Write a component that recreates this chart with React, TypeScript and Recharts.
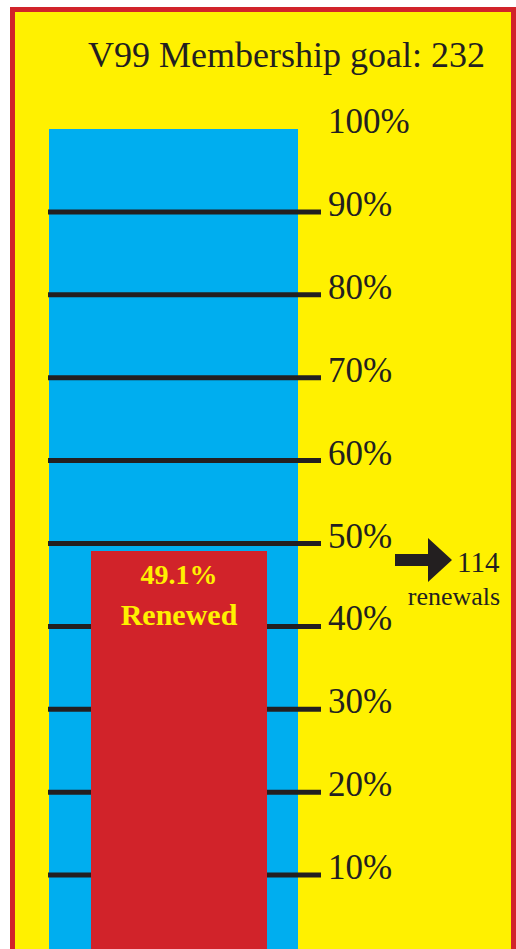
import React from 'react';
import { ComposedChart, Bar, XAxis, YAxis, LabelList } from 'recharts';

const categories = ['V99'];
const goalPct = [100];
const renewedPct = [49.1];
const goalCount = 232;
const renewalCount = 114;
const tickValues = [10, 20, 30, 40, 50, 60, 70, 80, 90, 100];
const lineValues = [10, 20, 30, 40, 50, 60, 70, 80, 90];

const data = categories.map((c, i) => ({ name: c, goal: goalPct[i], renewed: renewedPct[i] }));

const SERIF = '"Liberation Serif", "DejaVu Serif", serif';
const INK = '#231F20';
const YELLOW = '#FFF100';
const BLUE = '#00AEEF';
const RED = '#D1232A';

const Tick = (props: any) => {
  const { x, y, payload } = props;
  return (
    <text x={x + 7} y={y + 4} fill={INK} fontSize={35} fontFamily={SERIF} textAnchor="start">
      {`${payload.value}%`}
    </text>
  );
};

// Goal bar (100%) with the scale lines at each 10% drawn from the bar's own geometry
const GoalShape = (props: any) => {
  const { x, y, width, height, payload } = props;
  const top = payload.goal;
  const bottomY = y + height;
  return (
    <g>
      <rect x={x} y={y} width={width} height={height} fill={BLUE} />
      {lineValues.map((v) => {
        const ly = bottomY - (height * v) / top;
        return <line key={v} x1={x - 1} x2={x + width + 23} y1={ly} y2={ly} stroke={INK} strokeWidth={5} />;
      })}
    </g>
  );
};

const BarLabel = (props: any) => {
  const { x, y, width, value } = props;
  const cx = x + width / 2;
  const ay = y + 9;
  const ax = 395;
  return (
    <g>
      <text x={cx} y={y + 33} fill={YELLOW} fontSize={28} fontWeight="bold" fontFamily={SERIF} textAnchor="middle">
        {`${value}%`}
      </text>
      <text x={cx} y={y + 74} fill={YELLOW} fontSize={30} fontWeight="bold" fontFamily={SERIF} textAnchor="middle">
        Renewed
      </text>
      <path
        d={`M${ax},${ay - 6} L${ax + 33},${ay - 6} L${ax + 33},${ay - 22} L${ax + 57},${ay} L${ax + 33},${ay + 22} L${ax + 33},${ay + 6} L${ax},${ay + 6} Z`}
        fill={INK}
      />
      <text x={ax + 62} y={ay + 12} fill={INK} fontSize={29} fontFamily={SERIF} textAnchor="start">
        {renewalCount}
      </text>
      <text x={ax + 59} y={ay + 45} fill={INK} fontSize={26} fontFamily={SERIF} textAnchor="middle">
        renewals
      </text>
    </g>
  );
};

export default function App() {
  return (
    <div style={{ position: 'fixed', left: 0, top: 0, width: 516, height: 949, overflow: 'hidden', background: '#fff' }}>
      <div
        style={{
          position: 'absolute',
          left: 10,
          top: 7,
          width: 506,
          height: 960,
          boxSizing: 'border-box',
          border: `5px solid ${RED}`,
          borderBottom: 'none',
          background: YELLOW,
        }}
      />
      <div
        style={{
          position: 'absolute',
          left: 88,
          top: 35,
          fontFamily: SERIF,
          fontSize: 36,
          color: INK,
          lineHeight: '40px',
          whiteSpace: 'nowrap',
        }}
      >
        {`V99 Membership goal: ${goalCount}`}
      </div>
      <div style={{ position: 'absolute', left: 0, top: 0 }}>
        <ComposedChart width={516} height={960} data={data} margin={{ top: 129, right: 5, bottom: 2, left: 48 }}>
          <XAxis xAxisId="a" dataKey="name" hide padding={{ left: 0, right: 22 }} />
          <XAxis xAxisId="b" dataKey="name" hide padding={{ left: 0, right: 11 }} />
          <YAxis
            orientation="right"
            width={190}
            domain={[0, 100]}
            ticks={tickValues}
            interval={0}
            axisLine={false}
            tickLine={false}
            tickSize={0}
            tickMargin={0}
            tick={<Tick />}
          />
          <Bar xAxisId="a" dataKey="goal" fill={BLUE} barSize={249} shape={<GoalShape />} isAnimationActive={false} />
          <Bar xAxisId="b" dataKey="renewed" fill={RED} barSize={176} isAnimationActive={false}>
            <LabelList dataKey="renewed" content={<BarLabel />} />
          </Bar>
        </ComposedChart>
      </div>
    </div>
  );
}
